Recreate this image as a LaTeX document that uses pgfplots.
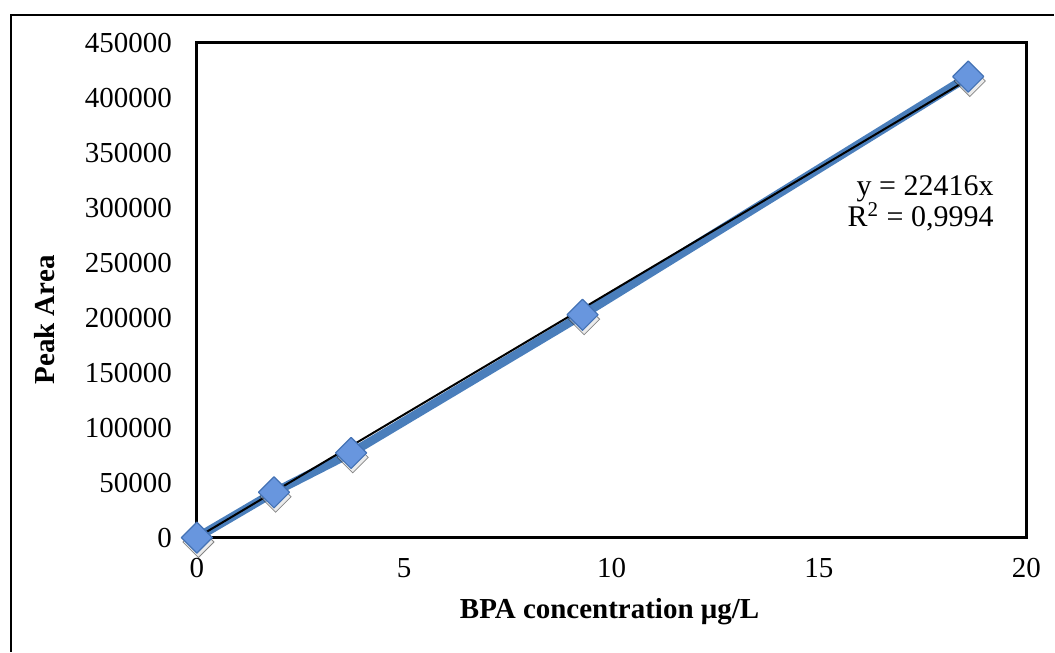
\documentclass[border=0pt]{standalone}
\usepackage{fontspec}
\setmainfont{Liberation Serif}
\usepackage{pgfplots}
\pgfplotsset{compat=1.18}
\usetikzlibrary{calc}
\definecolor{seriesblue}{RGB}{74,126,187}
\definecolor{markblue}{RGB}{104,150,222}
\definecolor{markedge}{RGB}{68,114,180}

\pgfplotstableread{
x y
0 0
1.86 41200
3.72 77000
9.3 202700
18.6 419400
}\calib

\begin{document}
\begin{tikzpicture}
\begin{axis}[
  name=ax,
  scale only axis,
  width=415pt, height=247.5pt,
  xmin=0, xmax=20, ymin=0, ymax=450000,
  xtick={0,5,...,20},
  ytick={0,50000,...,450000},
  major tick length=0pt,
  axis line style={line width=1.5pt},
  tick label style={font=\fontsize{14.5}{16}\selectfont},
  /pgf/number format/assume math mode=true,
  scaled y ticks=false,
  yticklabel style={/pgf/number format/fixed, /pgf/number format/1000 sep={}, xshift=-9pt},
  xticklabel style={yshift=-7pt},
  clip=false,
]
% soft drop shadow under the markers
\addplot[only marks, mark=square*, mark size=5.5pt,
  mark options={xshift=0.8pt, yshift=-2.2pt, rotate=45, draw=none, fill=gray!35, opacity=0.45}]
  table[x=x, y=y] {\calib};
% measured series
\addplot[seriesblue, line width=4.3pt, line join=round, mark=square*, mark size=5.5pt,
  mark options={rotate=45, fill=markblue, draw=markedge, line width=0.6pt}]
  table[x=x, y=y] {\calib};
% linear fit through the origin, y = 22416x
\addplot[black, line width=1pt] coordinates {(0,0) (18.6,416938)};

\node[anchor=east, align=right, font=\fontsize{15}{15.5}\selectfont]
  at (axis cs:19.38,304000) {y = 22416x\\R\textsuperscript{2} = 0,9994};
\node[rotate=90, font=\bfseries\fontsize{14.5}{16}\selectfont]
  at (axis description cs:-0.183,0.44) {Peak Area};
\node[font=\bfseries\fontsize{14.5}{16}\selectfont]
  at (axis description cs:0.4976,-0.149) {BPA concentration μg/L};
\end{axis}
% chart area border
\draw[line width=0.75pt] ($(ax.south west)+(-93pt,-57pt)$) -- ($(ax.north west)+(-93pt,14pt)$) -- ($(ax.north east)+(14pt,14pt)$);
\path[use as bounding box] ($(ax.south west)+(-98.5pt,-57pt)$) rectangle ($(ax.north east)+(14pt,21.5pt)$);
\end{tikzpicture}
\end{document}
